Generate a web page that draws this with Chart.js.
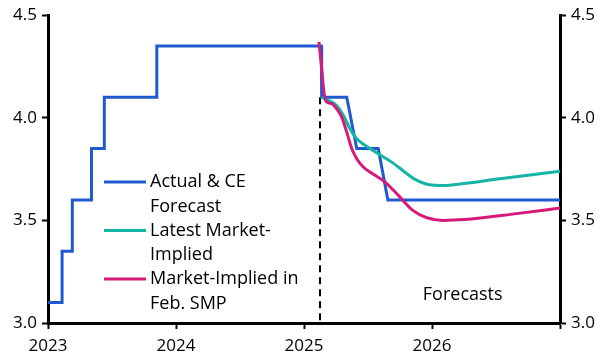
<!DOCTYPE html>
<html>
<head>
<meta charset="utf-8">
<script src="https://cdn.jsdelivr.net/npm/chart.js@4"></script>
<style>
  html, body { margin: 0; padding: 0; background: #fff; }
  #wrap { width: 609px; height: 362px; }
</style>
</head>
<body>
<div id="wrap"><canvas id="chart" width="609" height="362"></canvas></div>
<script>

// Actual & CE forecast (decimal year, %), corners of the steps
var actualDates = [2023.0, 2023.11, 2023.11, 2023.19, 2023.19, 2023.34, 2023.34, 2023.44, 2023.44, 2023.85, 2023.85,
	2025.135, 2025.138, 2025.334, 2025.412, 2025.58, 2025.655, 2027.0];
var actualRates = [3.10, 3.10, 3.35, 3.35, 3.60, 3.60, 3.85, 3.85, 4.10, 4.10, 4.35,
	4.35, 4.10, 4.10, 3.85, 3.85, 3.60, 3.60];

// Latest market-implied path
var latestDates = [2025.138, 2025.19, 2025.255, 2025.307, 2025.359, 2025.412, 2025.477, 2025.58, 2025.685, 2025.789,
	2025.867, 2026.0, 2026.09, 2026.25, 2026.53, 2027.0];
var latestRates = [4.10, 4.085, 4.06, 4.012, 3.947, 3.898, 3.866, 3.825, 3.784, 3.735,
	3.70, 3.672, 3.67, 3.68, 3.703, 3.739];

// Market-implied path in the Feb. SMP
var smpDates = [2025.117, 2025.138, 2025.156, 2025.177, 2025.216, 2025.255, 2025.295, 2025.334, 2025.373, 2025.412,
	2025.463, 2025.555, 2025.633, 2025.737, 2025.85, 2025.96, 2026.09, 2026.25, 2026.66, 2027.0];
var smpRates = [4.37, 4.24, 4.125, 4.077, 4.069, 4.044, 4.003, 3.93, 3.85, 3.80,
	3.76, 3.72, 3.687, 3.622, 3.549, 3.513, 3.50, 3.504, 3.533, 3.56];

// Forecast start marker
var forecastStart = 2025.125;
var forecastLineRates = [4.1, 3.0];

var yearTicks = [2023, 2024, 2025, 2026, 2027];
var yearLabels = ['2023', '2024', '2025', '2026', ''];
var rateTicks = [3.0, 3.5, 4.0, 4.5];

var legendItems = [
	// label lines, colour
	[['Actual & CE', 'Forecast'], '#1f5ad0'],
	[['Latest Market-', 'Implied'], '#14b5a5'],
	[['Market-Implied in', 'Feb. SMP'], '#d61a7b']
];

var FONT = '"Open Sans", "Noto Sans", sans-serif';

function toPoints(xs, ys) {
	return xs.map((x, i) => ({ x: x, y: ys[i] }));
}

// Legend and "Forecasts" label drawn by hand (the legend has wrapped labels)
var annotations = {
	id: 'annotations',
	afterDraw: function (chart) {
		var ctx = chart.ctx;
		var xs = chart.scales.x, ys = chart.scales.y;
		ctx.save();
		ctx.font = '18px ' + FONT;
		ctx.fillStyle = '#000';
		ctx.textBaseline = 'middle';
		ctx.textAlign = 'left';

		var top = 182;
		legendItems.forEach((item, i) => {
			var y = top + i * 48.5;
			ctx.strokeStyle = item[1];
			ctx.lineWidth = 3;
			ctx.beginPath();
			ctx.moveTo(104, y);
			ctx.lineTo(146, y);
			ctx.stroke();
			item[0].forEach((line, j) => {
				ctx.fillText(line, 150, y + j * 24.5);
			});
		});

		ctx.textAlign = 'center';
		ctx.fillText('Forecasts', xs.getPixelForValue(2026.24), ys.getPixelForValue(3.135));
		ctx.restore();
	}
};

var lineStyle = { pointRadius: 0, borderWidth: 3, fill: false };

function rateAxis(position, width) {
	return {
		position: position,
		min: 3,
		max: 4.5,
		afterBuildTicks: function (scale) {
			scale.ticks = rateTicks.map(v => ({ value: v }));
		},
		afterFit: function (scale) { scale.width = width; },
		ticks: {
			padding: 5,
			color: '#000',
			font: { family: FONT, size: 17 },
			callback: function (value) { return value.toFixed(1); }
		},
		grid: {
			drawOnChartArea: false,
			drawTicks: true,
			tickLength: 6,
			tickWidth: 2,
			tickColor: '#000'
		},
		border: { display: true, color: '#000', width: 3 }
	};
}

new Chart(document.getElementById('chart').getContext('2d'), {
	type: 'line',
	data: {
		datasets: [
			Object.assign({
				label: 'Market-Implied in Feb. SMP',
				data: toPoints(smpDates, smpRates),
				borderColor: '#d61a7b',
				cubicInterpolationMode: 'monotone'
			}, lineStyle),
			Object.assign({
				label: 'Latest Market-Implied',
				data: toPoints(latestDates, latestRates),
				borderColor: '#14b5a5',
				cubicInterpolationMode: 'monotone'
			}, lineStyle),
			Object.assign({
				label: 'Actual & CE Forecast',
				data: toPoints(actualDates, actualRates),
				borderColor: '#1f5ad0',
				tension: 0
			}, lineStyle),
			{
				label: 'forecast start',
				data: forecastLineRates.map(v => ({ x: forecastStart, y: v })),
				borderColor: '#000',
				borderWidth: 2,
				borderDash: [7, 5],
				pointRadius: 0,
				tension: 0
			}
		]
	},
	options: {
		responsive: false,
		animation: false,
		events: [],
		layout: { padding: { top: 15, left: 0, right: 0, bottom: 0 } },
		plugins: {
			legend: { display: false },
			tooltip: { enabled: false }
		},
		scales: {
			x: {
				type: 'linear',
				min: 2023,
				max: 2027,
				afterBuildTicks: function (scale) {
					scale.ticks = yearTicks.map(v => ({ value: v }));
				},
				afterFit: function (scale) { scale.height = 39; },
				ticks: {
					autoSkip: false,
					maxRotation: 0,
					padding: 7,
					color: '#000',
					font: { family: FONT, size: 17 },
					callback: function (value) {
						return yearLabels[yearTicks.indexOf(value)];
					}
				},
				grid: {
					drawOnChartArea: false,
					drawTicks: true,
					tickLength: 6,
					tickWidth: 2,
					tickColor: '#000'
				},
				border: { display: true, color: '#000', width: 3 }
			},
			y: rateAxis('left', 48),
			y2: rateAxis('right', 49)
		}
	},
	plugins: [annotations]
});
</script>
</body>
</html>
